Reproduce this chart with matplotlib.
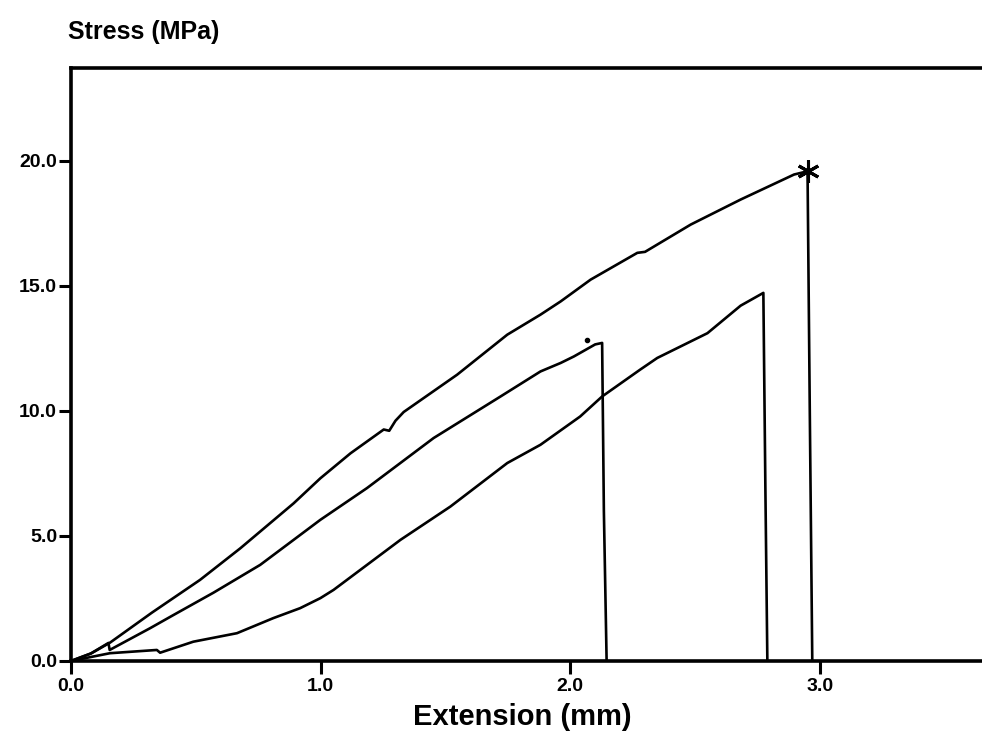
import matplotlib.pyplot as plt

# Stress-extension curves
top_x = [0, 0.08, 0.156, 0.324, 0.517, 0.678, 0.892, 0.999, 1.12, 1.253, 1.275, 1.30, 1.333,
         1.547, 1.748, 1.881, 1.962, 2.082, 2.269, 2.30, 2.483, 2.683, 2.897, 2.951, 2.96, 2.97]
top_y = [0, 0.3, 0.73, 1.93, 3.24, 4.5, 6.3, 7.3, 8.3, 9.25, 9.2, 9.6, 9.95,
         11.44, 13.04, 13.84, 14.37, 15.24, 16.31, 16.35, 17.44, 18.44, 19.44, 19.57, 10.0, 0]

mid_x = [0, 0.08, 0.15, 0.155, 0.317, 0.404, 0.571, 0.758, 0.892, 0.999, 1.186, 1.453,
         1.721, 1.881, 1.962, 2.015, 2.10, 2.128, 2.135, 2.146]
mid_y = [0, 0.3, 0.72, 0.44, 1.31, 1.8, 2.73, 3.84, 4.84, 5.64, 6.91, 8.91,
         10.57, 11.57, 11.91, 12.17, 12.65, 12.71, 6.0, 0]

bot_x = [0, 0.156, 0.344, 0.357, 0.49, 0.665, 0.81, 0.918, 0.999, 1.052, 1.32, 1.52,
         1.748, 1.881, 2.04, 2.128, 2.28, 2.349, 2.55, 2.683, 2.774, 2.782, 2.79]
bot_y = [0, 0.31, 0.44, 0.33, 0.77, 1.11, 1.71, 2.11, 2.51, 2.84, 4.84, 6.17,
         7.91, 8.64, 9.77, 10.57, 11.64, 12.11, 13.1, 14.2, 14.71, 7.0, 0]

# break point marked with an asterisk, plus a stray dot on the scan
break_x = [2.951]
break_y = [19.57]
dot_x = [2.068]
dot_y = [12.84]

x_ticks = [0, 1, 2, 3]
y_ticks = [0, 5, 10, 15, 20]

plt.rcParams['font.family'] = ['Liberation Sans', 'DejaVu Sans']
plt.rcParams['font.weight'] = 'bold'

fig = plt.figure(figsize=(9.82, 7.4), dpi=100)
ax = fig.add_axes([0.0723, 0.1068, 0.9277, 0.8014])

for xs, ys in [(top_x, top_y), (mid_x, mid_y), (bot_x, bot_y)]:
    ax.plot(xs, ys, color='black', linewidth=1.9)
ax.plot(break_x, break_y, linestyle='none', marker=(6, 2, 0), markersize=16,
        markeredgewidth=2.2, color='black')
ax.plot(dot_x, dot_y, linestyle='none', marker='o', markersize=3, color='black')

ax.set_xlim(0, 3.65)
ax.set_ylim(0, 23.7)
ax.set_xticks(x_ticks)
ax.set_yticks(y_ticks)
ax.set_xticklabels([f'{v:.1f}' for v in x_ticks])
ax.set_yticklabels([f'{v:.1f}' for v in y_ticks])
ax.tick_params(axis='both', direction='out', length=9, width=2.2, labelsize=14, pad=1)
ax.tick_params(axis='x', pad=3)

for side in ['left', 'bottom', 'top']:
    ax.spines[side].set_linewidth(2.6)
ax.spines['right'].set_visible(False)

fig.text(0.069, 0.957, 'Stress (MPa)', fontsize=18, fontweight='bold', va='center', ha='left')
fig.text(0.5316, 0.031, 'Extension (mm)', fontsize=21, fontweight='bold', va='center', ha='center')

fig.savefig('out.png', dpi=100)
